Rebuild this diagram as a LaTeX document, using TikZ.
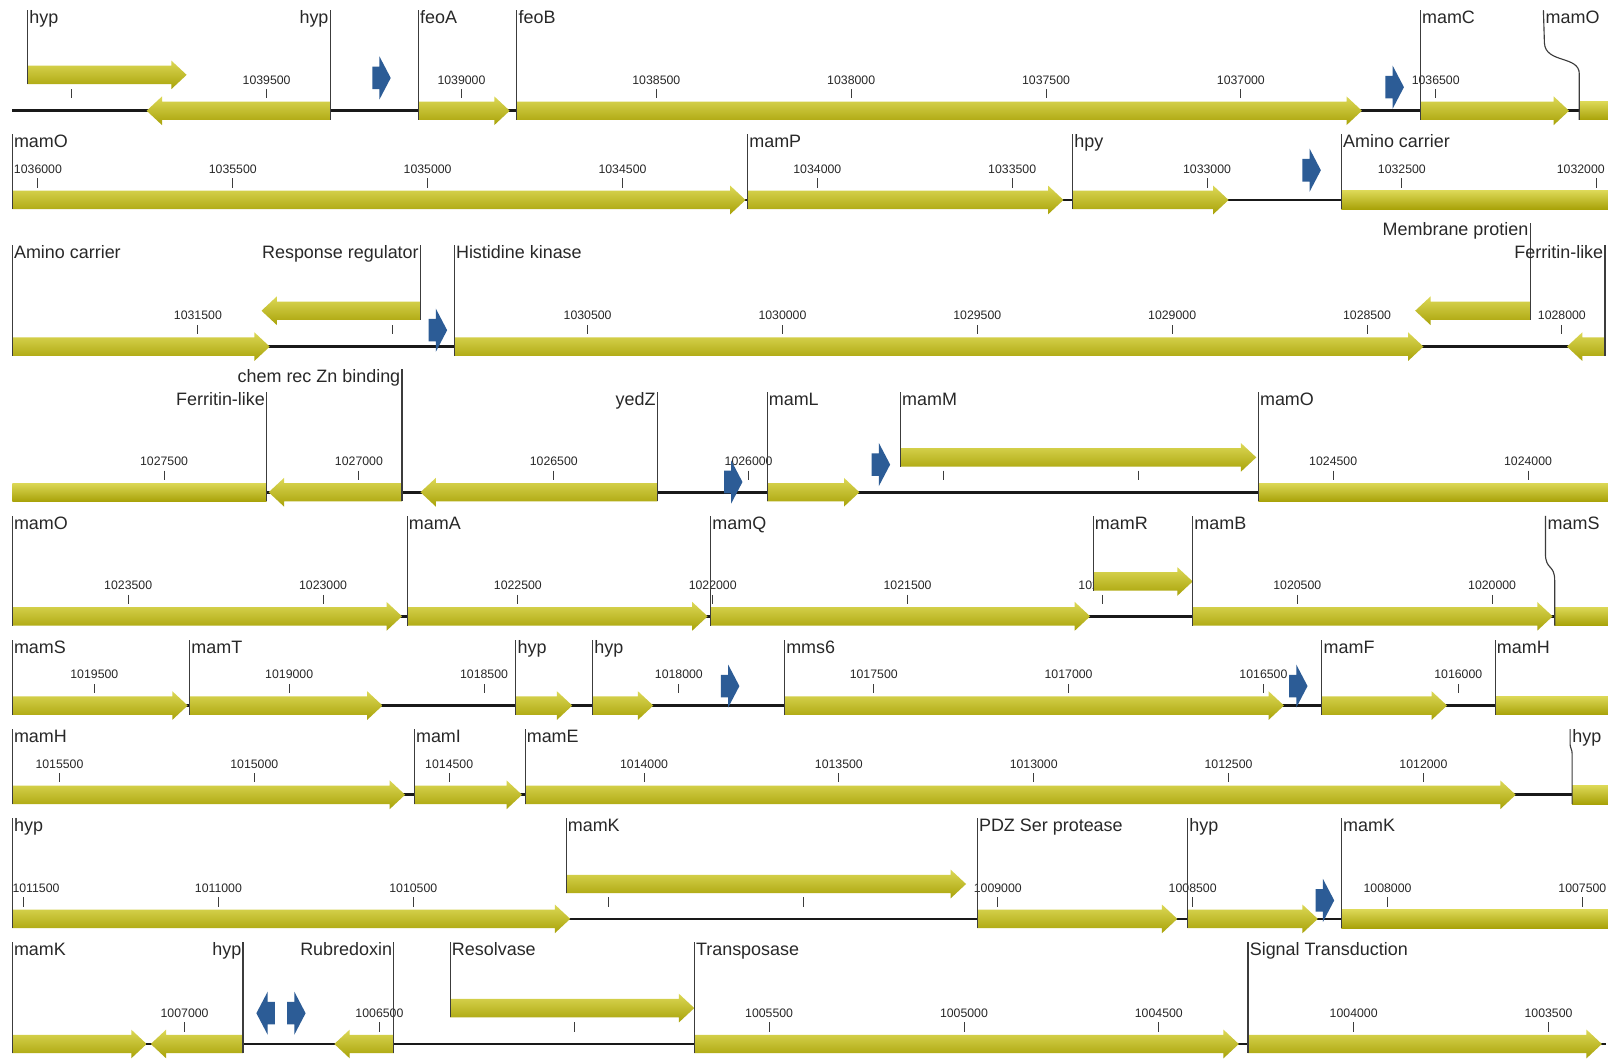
\documentclass[tikz,border=0pt]{standalone}
\usepackage{fontspec}
\setmainfont{Liberation Sans}
\definecolor{gtop}{RGB}{220,216,86}
\definecolor{gmid}{RGB}{199,195,24}
\definecolor{gbot}{RGB}{168,162,8}
\definecolor{promc}{RGB}{44,92,150}
\definecolor{leadc}{RGB}{60,60,60}
\definecolor{txtc}{RGB}{40,40,40}
\tikzset{
  gene/.style={top color=gtop, middle color=gmid, bottom color=gbot},
  prom/.style={fill=promc},
  leader/.style={draw=leadc, line width=1.1pt},
  tickl/.style={draw=leadc, line width=0.9pt},
  baseln/.style={draw=black!90, line width=2.6pt},
  lab/.style={inner sep=0pt, text=txtc, font=\fontsize{17.5}{20}\selectfont},
  num/.style={inner sep=0pt, text=txtc, font=\fontsize{12}{14}\selectfont},
}
\newcommand\geneR[3]{\shade[gene] ({#1},{#3-9}) -- ({#2-15},{#3-9}) -- ({#2-15},{#3-14}) -- ({#2},{#3}) -- ({#2-15},{#3+14}) -- ({#2-15},{#3+9}) -- ({#1},{#3+9}) -- cycle;}
\newcommand\geneL[3]{\shade[gene] ({#2},{#3-9}) -- ({#1+15},{#3-9}) -- ({#1+15},{#3-14}) -- ({#1},{#3}) -- ({#1+15},{#3+14}) -- ({#1+15},{#3+9}) -- ({#2},{#3+9}) -- cycle;}
\newcommand\geneF[3]{\shade[gene] ({#1},{#3-9}) rectangle ({#2},{#3+9});}
\newcommand\promR[2]{\fill[prom] ({#1},{#2-11}) -- ({#1+7},{#2-11}) -- ({#1+7},{#2-21}) -- ({#1+18},{#2}) -- ({#1+7},{#2+21}) -- ({#1+7},{#2+11}) -- ({#1},{#2+11}) -- cycle;}
\newcommand\promL[2]{\fill[prom] ({#1+18},{#2-11}) -- ({#1+11},{#2-11}) -- ({#1+11},{#2-21}) -- ({#1},{#2}) -- ({#1+11},{#2+21}) -- ({#1+11},{#2+11}) -- ({#1+18},{#2+11}) -- cycle;}
\newcommand\labL[4]{\draw[leader] ({#1},{#3}) -- ({#1},{#2-7}); \node[lab,anchor=base west] at ({#1+1.5},{#2+6}) {#4};}
\newcommand\labR[4]{\draw[leader] ({#1},{#3}) -- ({#1},{#2-7}); \node[lab,anchor=base east] at ({#1-1.5},{#2+6}) {#4};}
\newcommand\tk[3]{\draw[tickl] ({#1},{#2-21}) -- ({#1},{#2-12}); \node[num,anchor=base] at ({#1},{#2-26}) {#3};}
\newcommand\tkn[2]{\draw[tickl] ({#1},{#2-21}) -- ({#1},{#2-12});}
\begin{document}
\begin{tikzpicture}[x=1pt,y=-1pt]
\useasboundingbox (0,0) rectangle (1568,1032);
\fill[white] (0,0) rectangle (1568,1032);
\clip (0,0) rectangle (1568,1032);
% ---------- Row 1 ----------
\draw[baseln] (12,108) -- (1566,108);
\tkn{70}{108}
\tk{260}{108}{1039500}\tk{450}{108}{1039000}\tk{640}{108}{1038500}\tk{830}{108}{1038000}
\tk{1020}{108}{1037500}\tk{1210}{108}{1037000}\tk{1400}{108}{1036500}
\geneL{143}{322}{108}
\geneR{408}{497}{108}
\geneR{504}{1328}{108}
\geneR{1385}{1530}{108}
\geneF{1540}{1568}{108}
\geneR{27}{182}{73}
\promR{363}{76}
\promR{1351}{85}
\labL{27}{17}{82}{hyp}
\labR{322}{17}{117}{hyp}
\labL{408}{17}{117}{feoA}
\labL{504}{17}{117}{feoB}
\labL{1385}{17}{117}{mamC}
\draw[leader] (1540,117) -- (1540,72) .. controls (1540,54) and (1507,62) .. (1506,42) -- (1505,10);
\node[lab,anchor=base west] at (1507,23) {mamO};
% ---------- Row 2 ----------
\draw[baseln] (12,195) -- (1566,195);
\tk{37}{195}{1036000}\tk{227}{195}{1035500}\tk{417}{195}{1035000}\tk{607}{195}{1034500}
\tk{797}{195}{1034000}\tk{987}{195}{1033500}\tk{1177}{195}{1033000}\tk{1367}{195}{1032500}
\tkn{1557}{195}\node[num,anchor=base east] at (1565,169) {1032000};
\geneR{12}{727}{195}
\geneR{729}{1037}{195}
\geneR{1046}{1198}{195}
\geneF{1308}{1568}{195}
\promR{1270}{166}
\labL{12}{138}{204}{mamO}
\labL{729}{138}{204}{mamP}
\labL{1046}{138}{204}{hpy}
\labL{1308}{138}{204}{Amino carrier}
% ---------- Row 3 ----------
\draw[baseln] (12,338) -- (1566,338);
\tk{193}{338}{1031500}\tkn{383}{338}\tk{573}{338}{1030500}\tk{763}{338}{1030000}
\tk{953}{338}{1029500}\tk{1143}{338}{1029000}\tk{1333}{338}{1028500}\tk{1523}{338}{1028000}
\geneR{12}{263}{338}
\geneR{443}{1388}{338}
\geneL{1528}{1565}{338}
\geneL{255}{410}{303}
\geneL{1380}{1492}{303}
\promR{418}{322}
\labL{12}{246}{347}{Amino carrier}
\labR{410}{246}{312}{Response regulator}
\labL{443}{246}{347}{Histidine kinase}
\labR{1492}{224}{312}{Membrane protien}
\labR{1565}{246}{347}{Ferritin-like}
% ---------- Row 4 ----------
\draw[baseln] (12,480) -- (1566,480);
\tk{160}{480}{1027500}\tk{350}{480}{1027000}\tk{540}{480}{1026500}\tk{730}{480}{1026000}
\tkn{920}{480}\tkn{1110}{480}\tk{1300}{480}{1024500}\tk{1490}{480}{1024000}
\geneF{12}{260}{480}
\geneL{262}{392}{480}
\geneL{410}{641}{480}
\geneR{748}{838}{480}
\geneF{1227}{1568}{480}
\geneR{878}{1225}{446}
\promR{706}{470}
\promR{850}{453}
\labR{260}{389}{489}{Ferritin-like}
\labR{392}{367}{489}{chem rec Zn binding}
\labR{641}{389}{489}{yedZ}
\labL{748}{389}{489}{mamL}
\labL{878}{389}{455}{mamM}
\labL{1227}{389}{489}{mamO}
% ---------- Row 5 ----------
\draw[baseln] (12,601) -- (1566,601);
\tk{125}{601}{1023500}\tk{315}{601}{1023000}\tk{505}{601}{1022500}\tk{695}{601}{1022000}
\tk{885}{601}{1021500}\tk{1075}{601}{1021000}\tk{1265}{601}{1020500}\tk{1455}{601}{1020000}
\geneR{12}{392}{601}
\geneR{397}{690}{601}
\geneR{693}{1063}{601}
\geneR{1163}{1514}{601}
\geneF{1516}{1568}{601}
\geneR{1066}{1163}{567}
\labL{12}{510}{610}{mamO}
\labL{397}{510}{610}{mamA}
\labL{693}{510}{610}{mamQ}
\labL{1066}{510}{576}{mamR}
\labL{1163}{510}{610}{mamB}
\draw[leader] (1516,610) -- (1516,566) .. controls (1516,550) and (1507,556) .. (1507,540) -- (1507,503);
\node[lab,anchor=base west] at (1509,516) {mamS};
% ---------- Row 6 ----------
\draw[baseln] (12,688) -- (1566,688);
\tk{92}{688}{1019500}\tk{282}{688}{1019000}\tk{472}{688}{1018500}\tk{662}{688}{1018000}
\tk{852}{688}{1017500}\tk{1042}{688}{1017000}\tk{1232}{688}{1016500}\tk{1422}{688}{1016000}
\geneR{12}{183}{688}
\geneR{185}{373}{688}
\geneR{503}{558}{688}
\geneR{578}{637}{688}
\geneR{765}{1252}{688}
\geneR{1289}{1411}{688}
\geneF{1458}{1568}{688}
\promR{703}{669}
\promR{1257}{669}
\labL{12}{631}{697}{mamS}
\labL{185}{631}{697}{mamT}
\labL{503}{631}{697}{hyp}
\labL{578}{631}{697}{hyp}
\labL{765}{631}{697}{mms6}
\labL{1289}{631}{697}{mamF}
\labL{1458}{631}{697}{mamH}
% ---------- Row 7 ----------
\draw[baseln] (12,775) -- (1566,775);
\tk{58}{775}{1015500}\tk{248}{775}{1015000}\tk{438}{775}{1014500}\tk{628}{775}{1014000}
\tk{818}{775}{1013500}\tk{1008}{775}{1013000}\tk{1198}{775}{1012500}\tk{1388}{775}{1012000}
\geneR{12}{395}{775}
\geneR{404}{509}{775}
\geneR{512}{1478}{775}
\geneF{1533}{1568}{775}
\labL{12}{718}{784}{mamH}
\labL{404}{718}{784}{mamI}
\labL{512}{718}{784}{mamE}
\draw[leader] (1533,784) -- (1533,736) .. controls (1533,729) and (1531,731) .. (1531,724) -- (1531,711);
\node[lab,anchor=base west] at (1533,724) {hyp};
% ---------- Row 8 ----------
\draw[baseln] (12,896) -- (1566,896);
\tkn{23}{896}\node[num,anchor=base west] at (12,870) {1011500};
\tk{213}{896}{1011000}\tk{403}{896}{1010500}\tkn{593}{896}\tkn{783}{896}
\tk{973}{896}{1009000}\tk{1163}{896}{1008500}\tk{1353}{896}{1008000}\tk{1543}{896}{1007500}
\geneR{12}{556}{896}
\geneR{953}{1148}{896}
\geneR{1158}{1285}{896}
\geneF{1308}{1568}{896}
\geneR{552}{942}{862}
\promR{1283}{878}
\labL{12}{805}{905}{hyp}
\labL{552}{805}{871}{mamK}
\labL{953}{805}{905}{PDZ Ser protease}
\labL{1158}{805}{905}{hyp}
\labL{1308}{805}{905}{mamK}
% ---------- Row 9 ----------
\draw[baseln] (12,1018) -- (1566,1018);
\tk{180}{1018}{1007000}\tk{370}{1018}{1006500}\tkn{560}{1018}\tk{750}{1018}{1005500}
\tk{940}{1018}{1005000}\tk{1130}{1018}{1004500}\tk{1320}{1018}{1004000}\tk{1510}{1018}{1003500}
\geneR{12}{143}{1018}
\geneL{147}{237}{1018}
\geneL{326}{384}{1018}
\geneR{677}{1208}{1018}
\geneR{1217}{1562}{1018}
\geneR{439}{677}{983}
\promL{250}{988}
\promR{280}{988}
\labL{12}{926}{1027}{mamK}
\labR{237}{926}{1027}{hyp}
\labR{384}{926}{1027}{Rubredoxin}
\labL{439}{926}{992}{Resolvase}
\labL{677}{926}{1027}{Transposase}
\labL{1217}{926}{1027}{Signal Transduction}
\end{tikzpicture}
\end{document}
